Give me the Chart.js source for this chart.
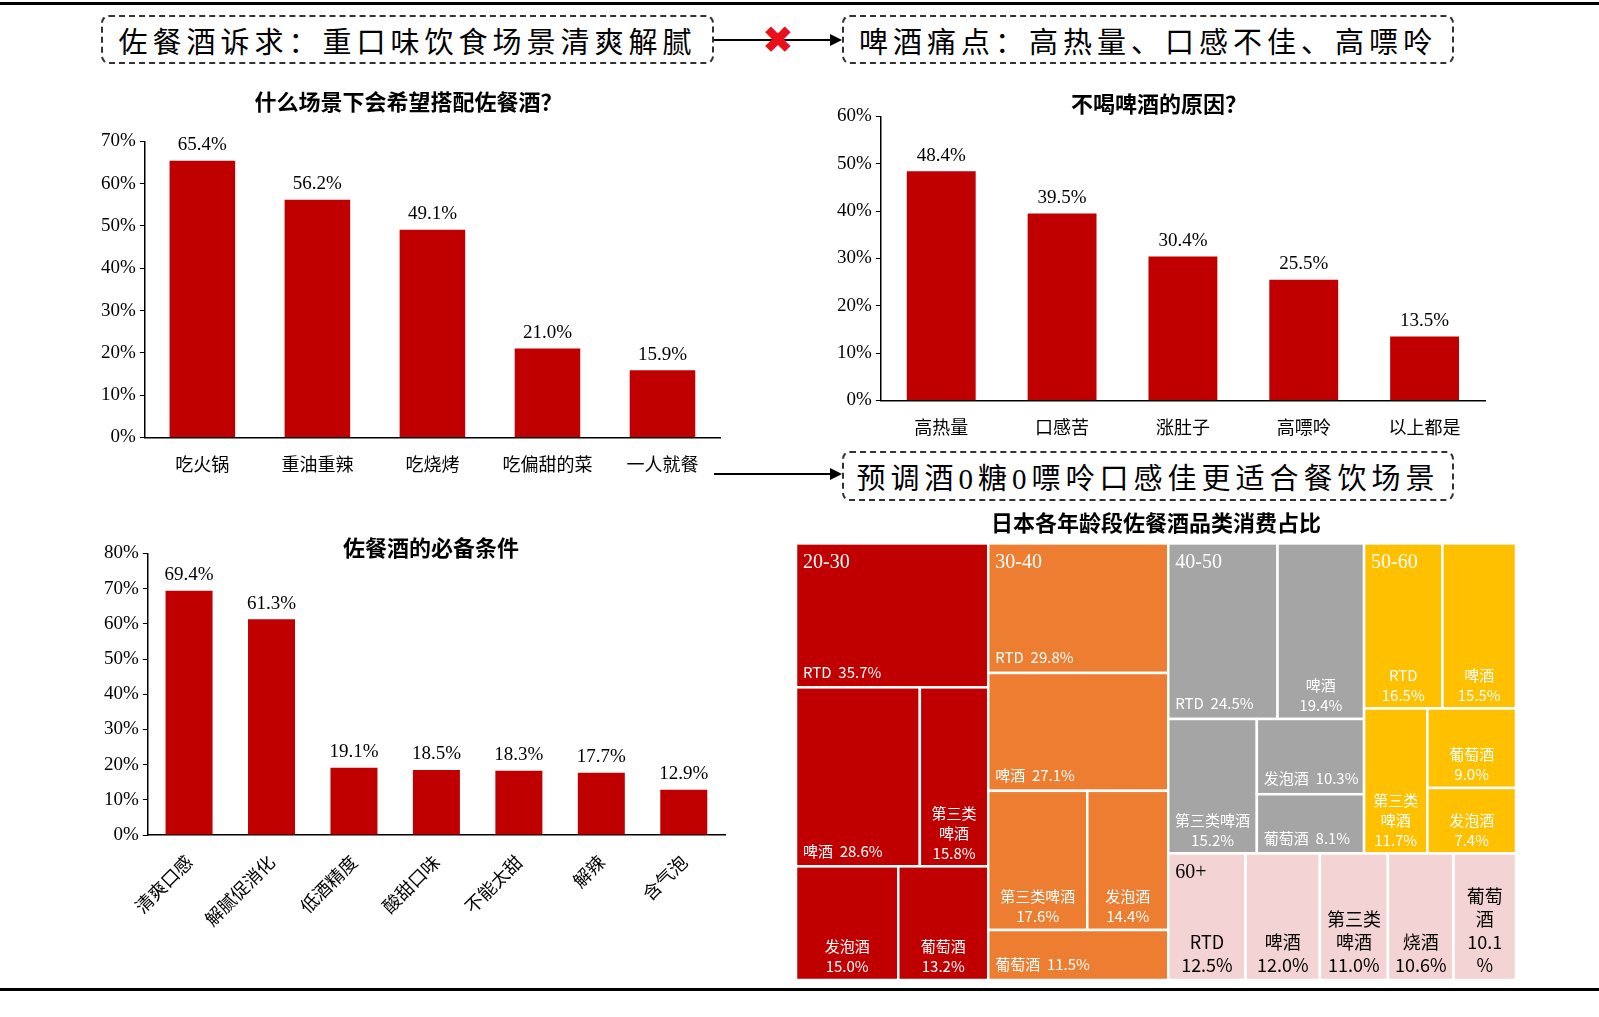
<!DOCTYPE html>
<html>
<head>
<meta charset="utf-8">
<script src="https://cdn.jsdelivr.net/npm/chart.js@4.4.0/dist/chart.umd.min.js"></script>
<style>
body { margin: 0; width: 1599px; height: 1017px; background: #fff; position: relative; overflow: hidden;
       font-family: "Liberation Serif", "Noto Sans CJK SC", serif; }
.box { position: absolute; border: 2px dashed #333; border-radius: 8px; font-size: 29px; letter-spacing: 5px;
       display: flex; align-items: center; justify-content: center; box-sizing: border-box; color: #000; }
.line { position: absolute; background: #000; }
.chart { position: absolute; }
.arrow { position: absolute; width: 0; height: 0; border-top: 6px solid transparent; border-bottom: 6px solid transparent; border-left: 12px solid #000; }
.ttl { position: absolute; font-family: "Noto Sans CJK SC"; font-weight: bold; font-size: 22px; }
</style>
</head>
<body>
<div class="line" style="left:0;top:2px;width:1599px;height:3px"></div>
<div class="line" style="left:0;top:988px;width:1599px;height:3px"></div>

<div class="box" style="left:101px;top:15px;width:613px;height:49px">佐餐酒诉求：重口味饮食场景清爽解腻</div>
<div class="box" style="left:842px;top:15px;width:612px;height:49px">啤酒痛点：高热量、口感不佳、高嘌呤</div>
<div class="box" style="left:842px;top:451px;width:612px;height:50px">预调酒0糖0嘌呤口感佳更适合餐饮场景</div>
<div class="line" style="left:714px;top:39px;width:118px;height:2px"></div>
<div class="arrow" style="left:830px;top:34px"></div>
<div style="position:absolute;left:762px;top:18px;font-size:38px;color:#e8101a;font-family:'DejaVu Sans';font-weight:bold">✖</div>
<div class="line" style="left:714px;top:473px;width:118px;height:2px"></div>
<div class="arrow" style="left:830px;top:468px"></div>

<div class="chart" style="left:75px;top:88px;width:655px;height:395px"><canvas id="c1"></canvas></div>
<div class="chart" style="left:815px;top:90px;width:680px;height:356px"><canvas id="c2"></canvas></div>
<div class="chart" style="left:75px;top:538px;width:660px;height:400px"><canvas id="c3"></canvas></div>
<div class="ttl" style="left:343px;top:530px">佐餐酒的必备条件</div>
<div class="chart" style="left:780px;top:505px;width:750px;height:482px"><canvas id="c4"></canvas></div>

<script>
// 场景
const sceneLabels = ['吃火锅', '重油重辣', '吃烧烤', '吃偏甜的菜', '一人就餐'];
const sceneValues = [65.4, 56.2, 49.1, 21.0, 15.9];
// 不喝啤酒原因
const reasonLabels = ['高热量', '口感苦', '涨肚子', '高嘌呤', '以上都是'];
const reasonValues = [48.4, 39.5, 30.4, 25.5, 13.5];
// 必备条件
const condLabels = ['清爽口感', '解腻促消化', '低酒精度', '酸甜口味', '不能太甜', '解辣', '含气泡'];
const condValues = [69.4, 61.3, 19.1, 18.5, 18.3, 17.7, 12.9];
// 日本各年龄段
const ageGroups = ['20-30', '30-40', '40-50', '50-60', '60+'];
const ageColors = ['#C00000', '#ED7D31', '#A5A5A5', '#FFC000', '#F4D3D5'];
const ageText = ['#fff', '#fff', '#fff', '#fff', '#000'];
const catNames = [
    ['RTD', '啤酒', '第三类啤酒', '发泡酒', '葡萄酒'],
    ['RTD', '啤酒', '第三类啤酒', '发泡酒', '葡萄酒'],
    ['RTD', '啤酒', '第三类啤酒', '发泡酒', '葡萄酒'],
    ['RTD', '啤酒', '第三类啤酒', '葡萄酒', '发泡酒'],
    ['RTD', '啤酒', '第三类啤酒', '烧酒', '葡萄酒']
];
const catValues = [
    [35.7, 28.6, 15.8, 15.0, 13.2],
    [29.8, 27.1, 17.6, 14.4, 11.5],
    [24.5, 19.4, 15.2, 10.3, 8.1],
    [16.5, 15.5, 11.7, 9.0, 7.4],
    [12.5, 12.0, 11.0, 10.6, 10.1]
];

Chart.defaults.font.family = '"Liberation Serif", "Noto Sans CJK SC", serif';
Chart.defaults.font.size = 19;
Chart.defaults.color = '#000';

const valueLabels = {
    id: 'valueLabels',
    afterDatasetsDraw(chart) {
        const ctx = chart.ctx;
        const meta = chart.getDatasetMeta(0);
        ctx.save();
        ctx.font = '19px "Liberation Serif"';
        ctx.fillStyle = '#000';
        ctx.textAlign = 'center';
        ctx.textBaseline = 'bottom';
        meta.data.forEach((bar, i) => {
            ctx.fillText(chart.data.datasets[0].data[i].toFixed(1) + '%', bar.x, bar.y - 6);
        });
        ctx.restore();
    }
};

function barChart(id, title, labels, values, max, rotate, padLeft, titleGap) {
    new Chart(document.getElementById(id), {
        type: 'bar',
        data: { labels: labels, datasets: [{ data: values, backgroundColor: '#C00000',
                barPercentage: 0.57, categoryPercentage: 1 }] },
        options: {
            responsive: true, maintainAspectRatio: false, animation: false,
            layout: { padding: { top: 0, right: 10, left: padLeft } },
            plugins: {
                legend: { display: false }, tooltip: { enabled: false },
                title: { display: !!title, text: title, font: { size: 22, weight: 'bold', family: '"Noto Sans CJK SC"' },
                         padding: { top: 0, bottom: titleGap } }
            },
            scales: {
                y: { min: 0, max: max, ticks: { stepSize: 10, callback: v => v + '%', padding: 4 },
                     grid: { drawOnChartArea: false, tickLength: 5, color: '#000' },
                     border: { color: '#000', width: 1.5 } },
                x: { ticks: { padding: 8, maxRotation: rotate, minRotation: rotate,
                              font: { family: '"Noto Sans CJK SC"', size: 18 } },
                     grid: { display: false }, border: { color: '#000', width: 1.5 } }
            }
        },
        plugins: [valueLabels]
    });
}

barChart('c1', '什么场景下会希望搭配佐餐酒？', sceneLabels, sceneValues, 70, 0, 22, 27);
barChart('c2', '不喝啤酒的原因？', reasonLabels, reasonValues, 60, 0, 18, 0);
barChart('c3', '', condLabels, condValues, 80, 45, 25, 0);

// treemap layout: inner splits follow the values
function L(g, i) { return { g: g, i: i }; }
function weight(n) {
    if (n.c) return n.c.reduce((s, k) => s + weight(k), 0);
    return catValues[n.g][n.i];
}
const groupTrees = [
    { d: 'v', c: [L(0, 0), { d: 'v', c: [{ d: 'h', c: [L(0, 1), L(0, 2)] }, { d: 'h', c: [L(0, 3), L(0, 4)] }] }] },
    { d: 'v', c: [L(1, 0), L(1, 1), { d: 'h', c: [L(1, 2), L(1, 3)] }, L(1, 4)] },
    { d: 'v', c: [{ d: 'h', c: [L(2, 0), L(2, 1)] }, { d: 'h', c: [L(2, 2), { d: 'v', c: [L(2, 3), L(2, 4)] }] }] },
    { d: 'v', c: [{ d: 'h', c: [L(3, 0), L(3, 1)] }, { d: 'h', c: [L(3, 2), { d: 'v', c: [L(3, 3), L(3, 4)] }] }] },
    { d: 'h', c: [L(4, 0), L(4, 1), L(4, 2), L(4, 3), L(4, 4)] }
];
// group blocks in 0-100 axis units
const groupRects = [[0, 0, 26.7, 100], [26.7, 0, 25, 100], [51.7, 0, 27.2, 71], [78.9, 0, 21.1, 71], [51.7, 71, 48.3, 29]];

function layout(n, x, y, w, h, out) {
    if (!n.c) { out.push({ g: n.g, i: n.i, x: x, y: y, w: w, h: h }); return; }
    const tot = weight(n);
    let off = 0;
    n.c.forEach(k => {
        const f = weight(k) / tot;
        if (n.d === 'h') layout(k, x + off * w, y, w * f, h, out);
        else layout(k, x, y + off * h, w, h * f, out);
        off += f;
    });
}

const treemapDraw = {
    id: 'treemapDraw',
    afterDatasetsDraw(chart) {
        const ctx = chart.ctx;
        const xs = chart.scales.x, ys = chart.scales.y;
        const cells = [];
        groupTrees.forEach((t, g) => {
            const r = groupRects[g];
            layout(t, r[0], r[1], r[2], r[3], cells);
        });
        ctx.save();
        cells.forEach(c => {
            const x0 = xs.getPixelForValue(c.x), x1 = xs.getPixelForValue(c.x + c.w);
            const y0 = ys.getPixelForValue(c.y), y1 = ys.getPixelForValue(c.y + c.h);
            ctx.fillStyle = ageColors[c.g];
            ctx.fillRect(x0, y0, x1 - x0, y1 - y0);
            ctx.strokeStyle = '#fff';
            ctx.lineWidth = 2.5;
            ctx.strokeRect(x0, y0, x1 - x0, y1 - y0);
            ctx.fillStyle = ageText[c.g];
            if (c.i === 0) {
                ctx.font = '20px "Liberation Serif"';
                ctx.textAlign = 'left'; ctx.textBaseline = 'top';
                ctx.fillText(ageGroups[c.g], x0 + 7, y0 + 9);
            }
            const fs = c.g === 4 ? 18 : 15;
            ctx.font = fs + 'px "Noto Sans CJK SC"';
            const name = catNames[c.g][c.i], val = catValues[c.g][c.i].toFixed(1) + '%';
            const one = name + '  ' + val;
            const avail = x1 - x0 - 12;
            ctx.textBaseline = 'bottom';
            if (c.g !== 4 && ctx.measureText(one).width <= avail) {
                ctx.textAlign = 'left';
                ctx.fillText(one, x0 + 7, y1 - 8);
            } else {
                const lines = [];
                let cur = '';
                for (const ch of name) {
                    if (ctx.measureText(cur + ch).width > avail && cur) { lines.push(cur); cur = ch; }
                    else cur += ch;
                }
                lines.push(cur);
                if (ctx.measureText(val).width <= avail) lines.push(val);
                else { lines.push(val.slice(0, -1)); lines.push('%'); }
                const lh = fs + 5;
                ctx.textAlign = 'center';
                const cx = (x0 + x1) / 2;
                lines.forEach((ln, k) => ctx.fillText(ln, cx, y1 - 6 - (lines.length - 1 - k) * lh));
            }
        });
        ctx.restore();
    }
};

new Chart(document.getElementById('c4'), {
    type: 'scatter',
    data: { datasets: [{ data: [] }] },
    options: {
        responsive: true, maintainAspectRatio: false, animation: false,
        layout: { padding: { left: 16, right: 14, bottom: 7 } },
        plugins: {
            legend: { display: false }, tooltip: { enabled: false },
            title: { display: true, text: '日本各年龄段佐餐酒品类消费占比',
                     font: { size: 22, weight: 'bold', family: '"Noto Sans CJK SC"' }, padding: { top: 4, bottom: 8 } }
        },
        scales: {
            x: { display: false, min: 0, max: 100 },
            y: { display: false, min: 0, max: 100, reverse: true }
        }
    },
    plugins: [treemapDraw]
});
</script>
</body>
</html>
